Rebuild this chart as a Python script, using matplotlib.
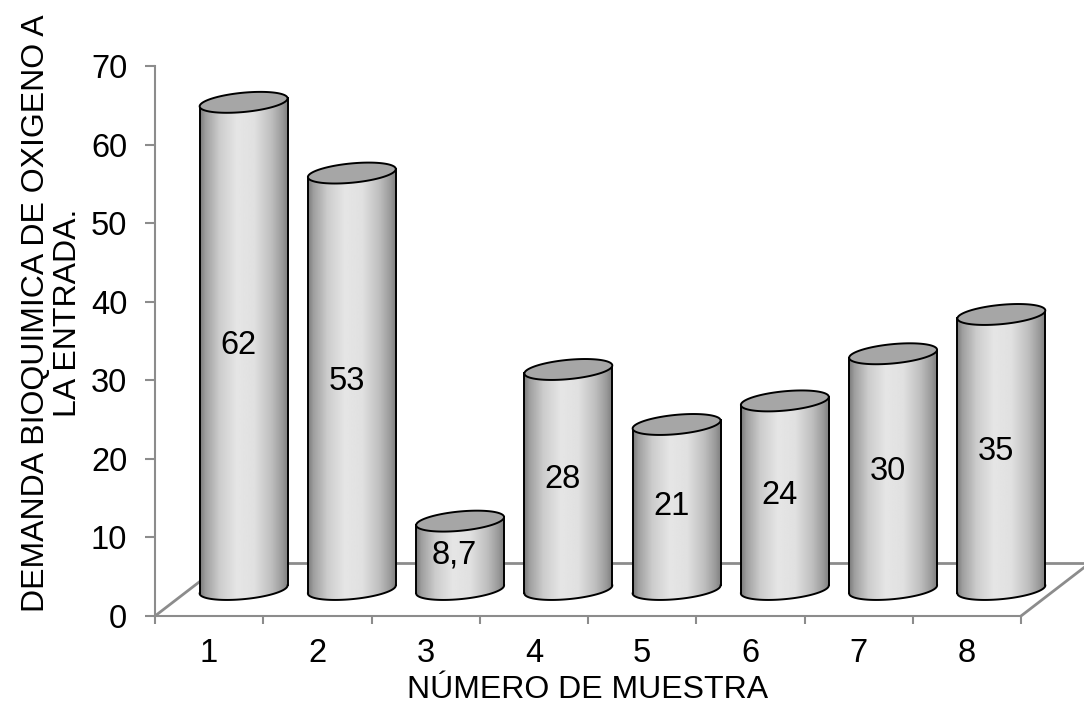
import numpy as np
import matplotlib
matplotlib.use("Agg")
import matplotlib.pyplot as plt
from matplotlib.patches import Polygon

# Data
muestras = ["1", "2", "3", "4", "5", "6", "7", "8"]
dbo_entrada = [62, 53, 8.7, 28, 21, 24, 30, 35]
y_ticks = [0, 10, 20, 30, 40, 50, 60, 70]

plt.rcParams["font.family"] = ["Liberation Sans", "DejaVu Sans"]

fig = plt.figure(figsize=(10.84, 7.13), dpi=100)
ax = fig.add_axes([155 / 1084, 97 / 713, 866 / 1084, 550 / 713])

FS = 23.5
FS_TITLE = 23
AXIS_GREY = "#8c8c8c"

# Floor depth (in data units) and cylinder geometry
depth_x, depth_y = 0.637, 6.75
radius = 0.406          # horizontal semi-axis, category units
ell_b = 1.23            # vertical semi-axis of end ellipses, value units
ell_s = 0.51            # tilt of end ellipses

# Floor outline
x0, x1 = 0.5, len(muestras) + 0.5
floor_kw = dict(color=AXIS_GREY, lw=2, clip_on=False, zorder=1, solid_capstyle="butt")
ax.plot([x0, x0 + depth_x], [0, depth_y], **floor_kw)
ax.plot([x0 + depth_x, x1 + depth_x], [depth_y, depth_y], **floor_kw)
ax.plot([x1, x1 + depth_x], [0, depth_y], **floor_kw)

# Horizontal shading profile across a cylinder body
u_prof = [0.0, 0.06, 0.22, 0.42, 0.62, 0.82, 0.94, 1.0]
v_prof = [0.48, 0.62, 0.80, 0.90, 0.88, 0.74, 0.60, 0.50]
u = np.linspace(0, 1, 256)
shade = np.interp(u, u_prof, v_prof)[None, :]


def ellipse_pts(cx, cy, t):
    return np.column_stack([cx + radius * np.cos(t),
                            cy + ell_b * np.sin(t) + ell_s * np.cos(t)])


base = depth_y / 2
for i, (lab, val) in enumerate(zip(muestras, dbo_entrada)):
    cx = i + 1 + depth_x / 2
    top = base + val
    z = 3 + i * 0.01

    t_front = np.linspace(np.pi, 2 * np.pi, 80)
    bottom_arc = ellipse_pts(cx, base, t_front)
    top_arc = ellipse_pts(cx, top, t_front)[::-1]
    body = np.vstack([bottom_arc, top_arc])

    body_patch = Polygon(body, closed=True, facecolor="none", edgecolor="none",
                         zorder=z, clip_on=False)
    ax.add_patch(body_patch)
    img = ax.imshow(shade, cmap="gray", vmin=0, vmax=1, aspect="auto",
                    extent=[cx - radius, cx + radius, base - 3, top + 3],
                    interpolation="bilinear", zorder=z)
    img.set_clip_box(fig.bbox)
    img.set_clip_path(body_patch)

    # outline of sides and front bottom edge
    line_kw = dict(color="black", lw=1.4, zorder=z + 0.001, clip_on=False)
    ax.plot(bottom_arc[:, 0], bottom_arc[:, 1], **line_kw)
    ax.plot([cx - radius, cx - radius], [base - ell_s, top - ell_s], **line_kw)
    ax.plot([cx + radius, cx + radius], [base + ell_s, top + ell_s], **line_kw)

    # top cap
    t_all = np.linspace(0, 2 * np.pi, 160)
    cap = Polygon(ellipse_pts(cx, top, t_all), closed=True, facecolor="#a6a6a6",
                  edgecolor="black", lw=1.4, zorder=z + 0.002, clip_on=False)
    ax.add_patch(cap)

    txt = f"{val:g}".replace(".", ",")
    ax.text(cx - 0.05, base + val / 2, txt, ha="center", va="center",
            fontsize=FS, color="black", zorder=z + 0.003, clip_on=False)

# Axes styling
ax.set_xlim(x0, x1)
ax.set_ylim(0, 70)
for side in ("top", "right"):
    ax.spines[side].set_visible(False)
for side in ("left", "bottom"):
    ax.spines[side].set_color(AXIS_GREY)
    ax.spines[side].set_linewidth(1.5)
    ax.spines[side].set_zorder(1)

ax.set_yticks(y_ticks)
ax.set_yticklabels([str(t) for t in y_ticks])
ax.tick_params(axis="y", direction="out", length=7, width=1.5, color=AXIS_GREY,
               labelsize=FS, pad=13)

ax.set_xticks(np.arange(x0, x1 + 0.01, 1.0))
ax.set_xticklabels([])
ax.set_xticks(np.arange(1, len(muestras) + 1), minor=True)
ax.set_xticklabels(muestras, minor=True)
ax.tick_params(axis="x", which="major", direction="out", length=6, width=1.5, color=AXIS_GREY)
ax.tick_params(axis="x", which="minor", length=0, labelsize=FS, pad=16)

fig.text(588 / 1084, 1 - 690 / 713, "NÚMERO DE MUESTRA", ha="center", va="center",
         fontsize=FS_TITLE)
fig.text(52 / 1084, 1 - 313 / 713, "DEMANDA BIOQUIMICA DE OXIGENO A\nLA ENTRADA.",
         rotation=90, ha="center", va="center", multialignment="center",
         fontsize=FS_TITLE, linespacing=1.1)

fig.savefig("out.png", dpi=100)
